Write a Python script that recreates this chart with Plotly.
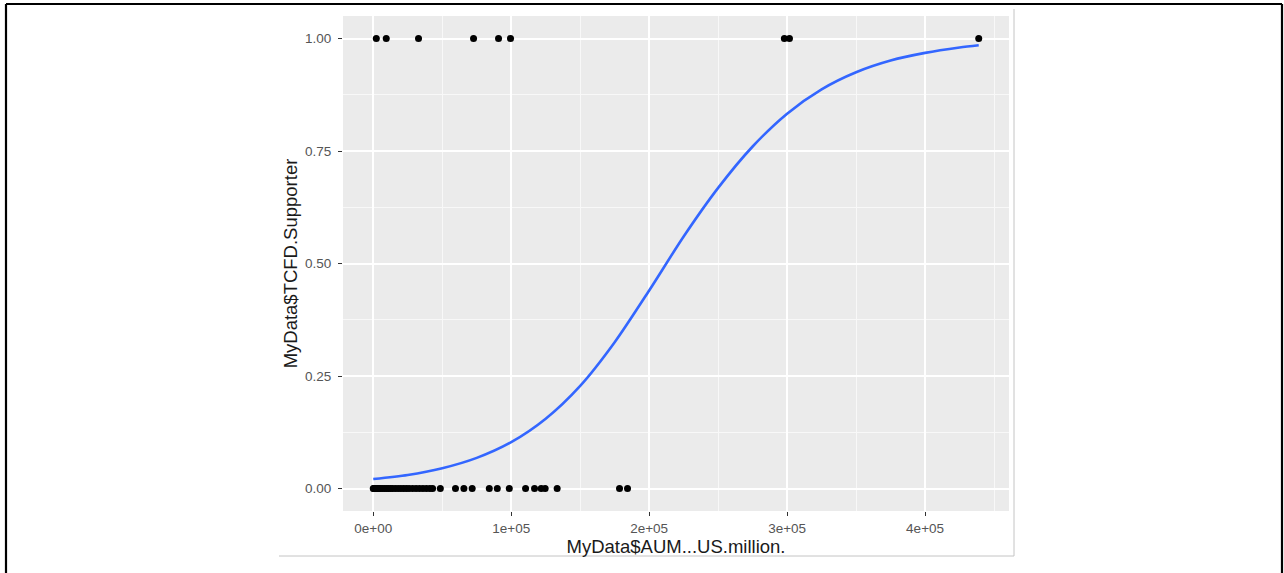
import plotly.graph_objects as go

# Observed points (AUM in US$ million, TCFD supporter 0/1)
aum_supporters = [2200, 9400, 32800, 72700, 90800, 99500, 298000, 301700, 438900]
aum_non_supporters = [0, 500, 1000, 1500, 2000, 3000, 4000, 5000, 6500, 8000, 9500,
                      11000, 12500, 14000, 16000, 18000, 20000, 22000, 24000, 26000,
                      28500, 31000, 33500, 36000, 38500, 41000, 43000,
                      48600, 59600, 65700, 71700, 84100, 89900, 98600,
                      110400, 116900, 121700, 124600, 133300, 178500, 184300]

# Fitted logistic curve
curve_x = [0, 25000, 50000, 75000, 100000, 125000, 150000, 175000, 200000, 225000,
           250000, 275000, 300000, 325000, 350000, 375000, 400000, 425000, 438900]
curve_y = [0.021, 0.030, 0.045, 0.068, 0.103, 0.155, 0.228, 0.325, 0.440, 0.560,
           0.668, 0.760, 0.833, 0.887, 0.925, 0.951, 0.968, 0.980, 0.985]

x_tick_vals = [0, 100000, 200000, 300000, 400000]
x_tick_labels = ["0e+00", "1e+05", "2e+05", "3e+05", "4e+05"]
y_tick_vals = [0, 0.25, 0.5, 0.75, 1.0]
y_tick_labels = ["0.00", "0.25", "0.50", "0.75", "1.00"]

all_x = aum_supporters + aum_non_supporters
xmin, xmax = min(all_x), max(all_x)
pad = (xmax - xmin) * 0.05

fig = go.Figure()
fig.add_trace(go.Scatter(
    x=aum_supporters + aum_non_supporters,
    y=[1] * len(aum_supporters) + [0] * len(aum_non_supporters),
    mode="markers", marker=dict(color="black", size=7), showlegend=False))
fig.add_trace(go.Scatter(
    x=curve_x, y=curve_y, mode="lines",
    line=dict(color="#3366FF", width=2.6, shape="spline", smoothing=0.8), showlegend=False))

PW, PH = 1284, 573
L, R, T, B = 343, 1009, 16, 511

def px(xp):
    return (xp - L) / (R - L)

def py(yp):
    return (B - yp) / (B - T)

shapes = [
    # outer black frame
    dict(type="line", xref="paper", yref="paper", x0=px(6), x1=px(6), y0=py(4), y1=py(580),
         line=dict(color="black", width=2.2)),
    dict(type="line", xref="paper", yref="paper", x0=px(6), x1=px(1282), y0=py(4), y1=py(4),
         line=dict(color="black", width=2.2)),
    dict(type="line", xref="paper", yref="paper", x0=px(1282), x1=px(1282), y0=py(4), y1=py(580),
         line=dict(color="black", width=2.2)),
    # light grey edge of the inner image
    dict(type="line", xref="paper", yref="paper", x0=px(1014), x1=px(1014), y0=py(9), y1=py(556),
         line=dict(color="#c4c4c4", width=1)),
    dict(type="line", xref="paper", yref="paper", x0=px(279), x1=px(1014), y0=py(556), y1=py(556),
         line=dict(color="#c4c4c4", width=1)),
]

axis_font = dict(family="Liberation Sans, Arial, sans-serif", size=13.5, color="#555555")
title_font = dict(family="Liberation Sans, Arial, sans-serif", size=18.5, color="#1a1a1a")

fig.update_layout(
    width=PW, height=PH,
    margin=dict(l=L, r=PW - R, t=T, b=PH - B),
    paper_bgcolor="white", plot_bgcolor="#EBEBEB",
    shapes=shapes,
    xaxis=dict(range=[xmin - pad, xmax + pad], tickvals=x_tick_vals, ticktext=x_tick_labels,
               showgrid=True, gridcolor="white", gridwidth=1.6, zeroline=False,
               ticks="outside", ticklen=4, tickwidth=1, tickcolor="#333333",
               tickfont=axis_font, ticklabelstandoff=1,
               minor=dict(dtick=50000, tick0=0, showgrid=True, gridcolor="#F8F8F8", gridwidth=0.8),
               title=dict(text="MyData$AUM...US.million.", font=title_font, standoff=3)),
    yaxis=dict(range=[-0.05, 1.05], tickvals=y_tick_vals, ticktext=y_tick_labels,
               showgrid=True, gridcolor="white", gridwidth=1.6, zeroline=False,
               ticks="outside", ticklen=4, tickwidth=1, tickcolor="#333333",
               tickfont=axis_font, ticklabelstandoff=4,
               minor=dict(dtick=0.125, tick0=0, showgrid=True, gridcolor="#F8F8F8", gridwidth=0.8),
               title=dict(text="MyData$TCFD.Supporter", font=title_font, standoff=2)),
)

fig.write_html("out.html", config={"displayModeBar": False},
               post_script="document.body.style.margin='0px';")
